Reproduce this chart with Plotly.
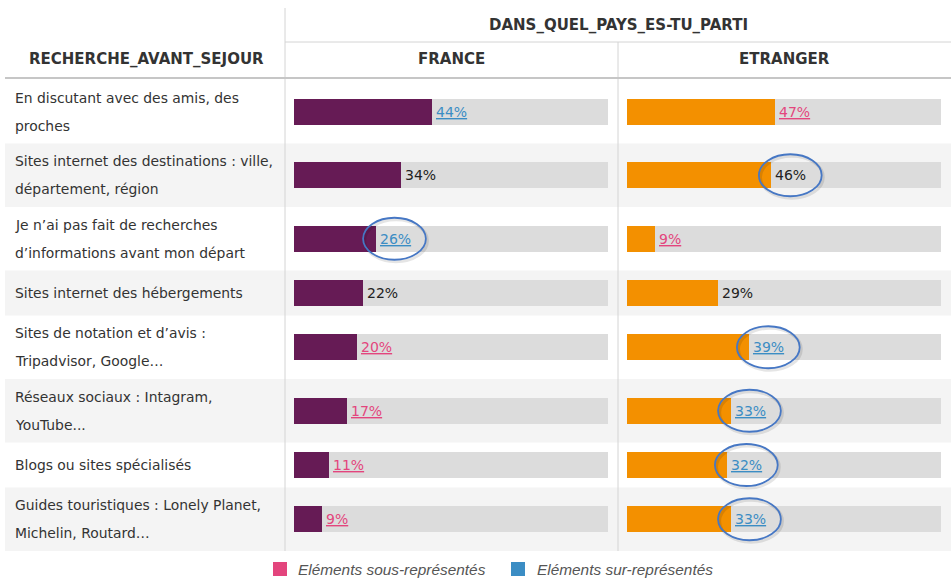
import plotly.graph_objects as go

# ---------------- data ----------------
categories = [
    "En discutant avec des amis, des\nproches",
    "Sites internet des destinations : ville,\ndépartement, région",
    "Je n’ai pas fait de recherches\nd’informations avant mon départ",
    "Sites internet des hébergements",
    "Sites de notation et d’avis :\nTripadvisor, Google…",
    "Réseaux sociaux : Intagram,\nYouTube...",
    "Blogs ou sites spécialisés",
    "Guides touristiques : Lonely Planet,\nMichelin, Routard…",
]
france = [44, 34, 26, 22, 20, 17, 11, 9]
etranger = [47, 46, 9, 29, 39, 33, 32, 33]
# 'sur' = sur-représenté (blue), 'sous' = sous-représenté (pink), '' = neutral
france_sig = ["sur", "", "sur", "", "sous", "sous", "sous", "sous"]
etranger_sig = ["sous", "", "sous", "", "sur", "sur", "sur", "sur"]
# hand-drawn highlight circles
france_circled = [False, False, True, False, False, False, False, False]
etranger_circled = [False, True, False, False, True, True, True, True]

row_header = "RECHERCHE_AVANT_SEJOUR"
group_header = "DANS_QUEL_PAYS_ES-TU_PARTI"
col_headers = ["FRANCE", "ETRANGER"]
legend_labels = ["Eléments sous-représentés", "Eléments sur-représentés"]

# ---------------- style ----------------
W, H = 951, 580
PURPLE = "#661b55"
ORANGE = "#f39000"
TRACK = "#dcdcdc"
ROWBG = "#f4f4f4"
BLUE = "#3b8dc4"
PINK = "#e3457d"
TXT = "#333333"
CIRCLE = "#4677c4"
FONT = "DejaVu Sans"


def px(x):
    return x / W


def py(y):
    return 1 - y / H


# row geometry (pixels inside the table body)
ROW_H2, ROW_H1 = 63.5, 45
heights = [ROW_H2 if "\n" in c else ROW_H1 for c in categories]
tops = []
acc = 0
for h in heights:
    tops.append(acc)
    acc += h
total = acc
centers = [t + h / 2 for t, h in zip(tops, heights)]
BODY_TOP = 80
BAR_W = 26

fig = go.Figure()

for vals, xa, color in [(france, "x", PURPLE), (etranger, "x2", ORANGE)]:
    fig.add_trace(go.Bar(y=centers, x=[100] * len(vals), orientation="h", width=BAR_W,
                         marker=dict(color=TRACK, line=dict(width=0)), xaxis=xa, yaxis="y",
                         hoverinfo="skip", showlegend=False))
    fig.add_trace(go.Bar(y=centers, x=vals, orientation="h", width=BAR_W,
                         marker=dict(color=color, line=dict(width=0)), xaxis=xa, yaxis="y",
                         hoverinfo="skip", showlegend=False))

shapes = []
annotations = []

# alternating row backgrounds
for i, (t, h) in enumerate(zip(tops, heights)):
    if i % 2 == 1:
        shapes.append(dict(type="rect", xref="paper", yref="y", x0=px(5), x1=1,
                           y0=t, y1=t + h, fillcolor=ROWBG, line=dict(width=0), layer="below"))

# grid lines
shapes += [
    dict(type="line", xref="paper", yref="paper", x0=px(285), x1=px(285), y0=py(8), y1=py(BODY_TOP + total),
         line=dict(color="#d4d4d4", width=1)),
    dict(type="line", xref="paper", yref="paper", x0=px(618), x1=px(618), y0=py(42), y1=py(BODY_TOP + total),
         line=dict(color="#d4d4d4", width=1)),
    dict(type="line", xref="paper", yref="paper", x0=px(285), x1=1, y0=py(42), y1=py(42),
         line=dict(color="#d4d4d4", width=1)),
    dict(type="line", xref="paper", yref="paper", x0=px(5), x1=1, y0=py(78), y1=py(78),
         line=dict(color="#c6c6c6", width=2)),
]

# row labels
for c, cy in zip(categories, centers):
    lines = c.split("\n")
    n = len(lines)
    for k, ln in enumerate(lines):
        annotations.append(dict(xref="paper", yref="y", x=px(13), y=cy + (k - (n - 1) / 2) * 28,
                                text=ln, showarrow=False, xanchor="left", yanchor="middle",
                                font=dict(family=FONT, size=13.9, color=TXT)))

# value labels + circles
for vals, sigs, circ, xa in [(france, france_sig, france_circled, "x"),
                             (etranger, etranger_sig, etranger_circled, "x2")]:
    for v, s, cflag, cy in zip(vals, sigs, circ, centers):
        label = f"{v}%"
        if s == "sur":
            txt, col = f"<u>{label}</u>", BLUE
        elif s == "sous":
            txt, col = f"<u>{label}</u>", PINK
        else:
            txt, col = label, "#222222"
        annotations.append(dict(xref=xa, yref="y", x=v, y=cy, text=txt, showarrow=False,
                                xanchor="left", yanchor="middle", xshift=2,
                                font=dict(family=FONT, size=14, color=col)))
        if cflag:
            shapes.append(dict(type="circle", xref=xa, yref="y", x0=v - 3.5, x1=v + 16.5,
                               y0=cy - 19, y1=cy + 23, line=dict(color="rgba(0,0,0,0.10)", width=3)))
            shapes.append(dict(type="circle", xref=xa, yref="y", x0=v - 4.0, x1=v + 16.0,
                               y0=cy - 21, y1=cy + 21, line=dict(color=CIRCLE, width=1.8)))

# headers
hfont = dict(family=FONT, size=15, color=TXT)
annotations += [
    dict(xref="paper", yref="paper", x=px(146), y=py(59), text=f"<b>{row_header}</b>", showarrow=False,
         xanchor="center", yanchor="middle", font=hfont),
    dict(xref="paper", yref="paper", x=px(618), y=py(25), text=f"<b>{group_header}</b>", showarrow=False,
         xanchor="center", yanchor="middle", font=hfont),
    dict(xref="paper", yref="paper", x=px(451), y=py(59), text=f"<b>{col_headers[0]}</b>", showarrow=False,
         xanchor="center", yanchor="middle", font=hfont),
    dict(xref="paper", yref="paper", x=px(784), y=py(59), text=f"<b>{col_headers[1]}</b>", showarrow=False,
         xanchor="center", yanchor="middle", font=hfont),
]

# legend
for (x0, col, lab, tx) in [(273, PINK, legend_labels[0], 296), (511, BLUE, legend_labels[1], 535)]:
    shapes.append(dict(type="rect", xref="paper", yref="paper", x0=px(x0), x1=px(x0 + 14),
                       y0=py(576), y1=py(562), fillcolor=col, line=dict(width=0)))
    annotations.append(dict(xref="paper", yref="paper", x=px(tx), y=py(569), text=f"<i>{lab}</i>",
                            showarrow=False, xanchor="left", yanchor="middle",
                            font=dict(family="Liberation Sans", size=15.4, color="#555555")))

fig.update_layout(
    width=W, height=H, margin=dict(l=0, r=0, t=0, b=0),
    paper_bgcolor="white", plot_bgcolor="rgba(0,0,0,0)",
    barmode="overlay", bargap=0,
    xaxis=dict(domain=[px(294), px(608)], range=[0, 100], visible=False, fixedrange=True),
    xaxis2=dict(domain=[px(627), px(941)], range=[0, 100], visible=False, fixedrange=True, anchor="y"),
    yaxis=dict(domain=[py(BODY_TOP + total), py(BODY_TOP)], range=[total, 0], visible=False, fixedrange=True),
    shapes=shapes, annotations=annotations, showlegend=False,
)

fig.write_html("out.html", config={"displayModeBar": False},
               post_script="document.body.style.margin='0px';")
